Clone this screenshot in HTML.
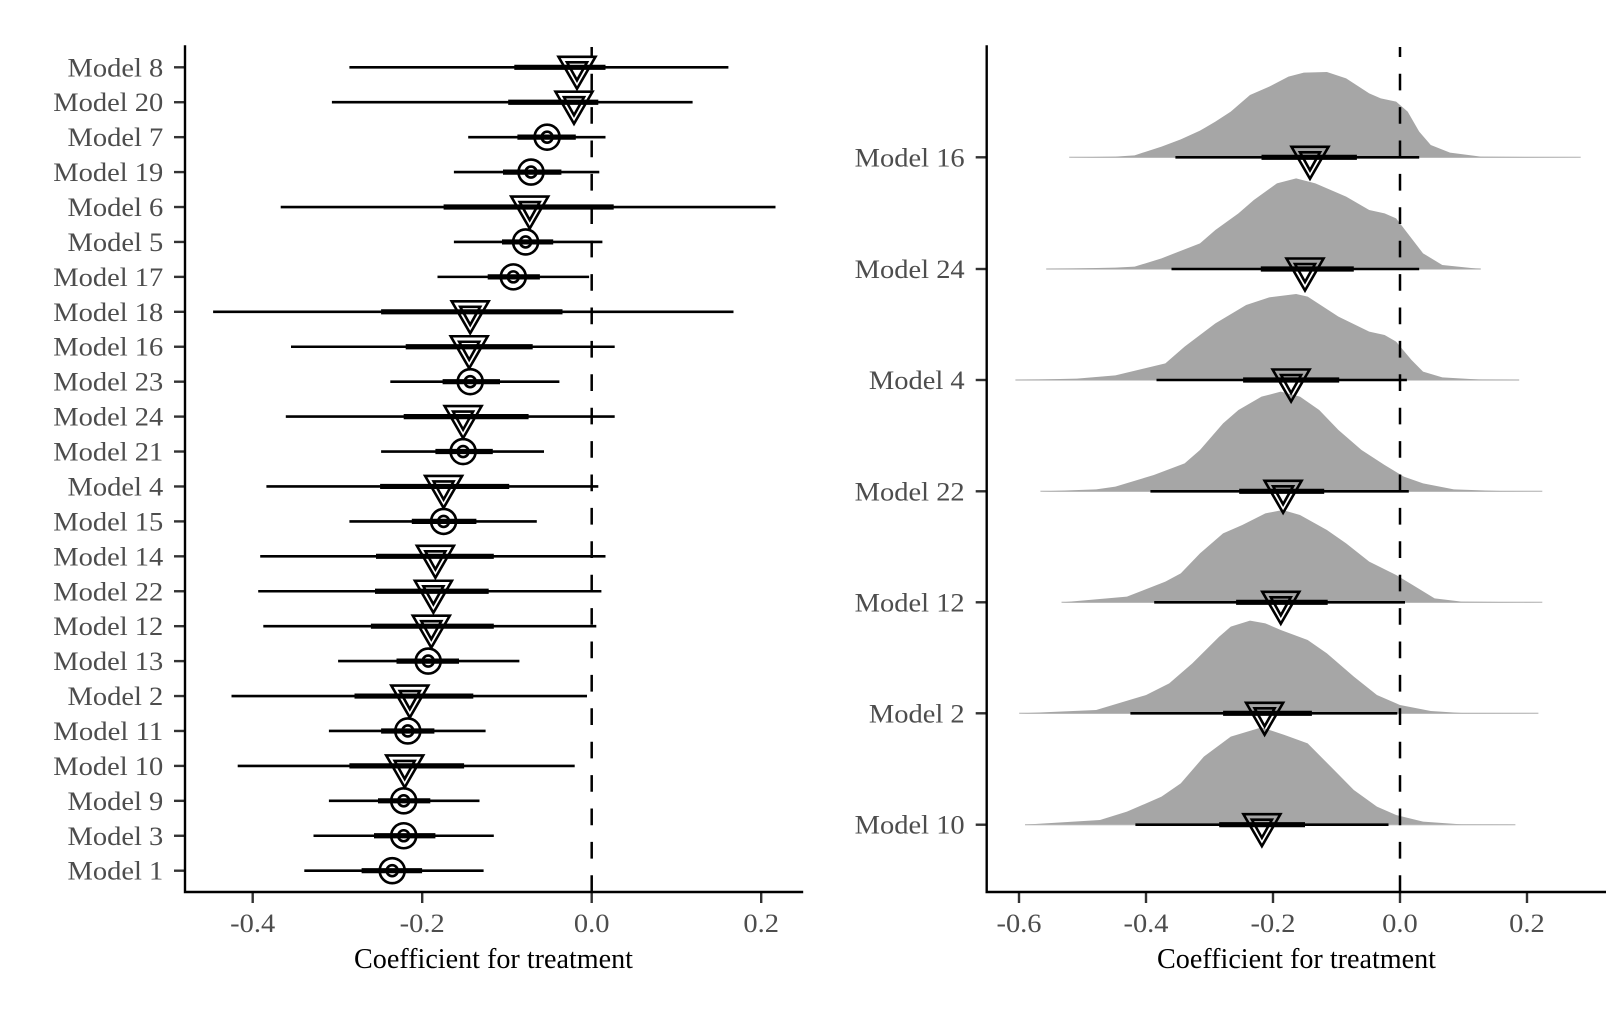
<!DOCTYPE html>
<html>
<head>
<meta charset="utf-8">
<style>
  html,body{margin:0;padding:0;background:#fff;}
  svg{display:block;}
  .tl{font-family:"Liberation Serif","Times New Roman",serif;font-size:26px;fill:#4d4d4d;}
  .ti{font-family:"Liberation Serif","Times New Roman",serif;font-size:29px;fill:#000;}
</style>
</head>
<body>
<svg width="1606" height="1022" viewBox="0 0 1606 1022" xmlns="http://www.w3.org/2000/svg">
<defs>
  <g id="tri" fill="none" stroke="#000" stroke-width="2.6" stroke-linejoin="miter">
    <path d="M-18.5,-10.5 H18.5 L0,21.5 Z"/>
    <path d="M-10,-5 H10 L0,13 Z"/>
  </g>
  <g id="cir" fill="none" stroke="#000" stroke-width="2.6">
    <circle r="12.5"/>
    <circle r="5.5"/>
  </g>
</defs>
<rect width="1606" height="1022" fill="#fff"/>

<!-- ================= LEFT PANEL ================= -->
<path d="M591.7,892 V47" stroke="#000" stroke-width="2.5" stroke-dasharray="16.7 16.7" fill="none"/>

<g stroke="#000" stroke-linecap="butt">
  <line x1="349.4" y1="67.3" x2="728.4" y2="67.3" stroke-width="2.6"/>
  <line x1="514.3" y1="67.3" x2="605.5" y2="67.3" stroke-width="5.2"/>
  <line x1="331.9" y1="102.23" x2="692.6" y2="102.23" stroke-width="2.6"/>
  <line x1="508.2" y1="102.23" x2="598.3" y2="102.23" stroke-width="5.2"/>
  <line x1="468.2" y1="137.16" x2="605.5" y2="137.16" stroke-width="2.6"/>
  <line x1="517.4" y1="137.16" x2="575.8" y2="137.16" stroke-width="5.2"/>
  <line x1="453.9" y1="172.09" x2="599.3" y2="172.09" stroke-width="2.6"/>
  <line x1="503" y1="172.09" x2="561.4" y2="172.09" stroke-width="5.2"/>
  <line x1="280.7" y1="207.02" x2="775.5" y2="207.02" stroke-width="2.6"/>
  <line x1="443.6" y1="207.02" x2="613.7" y2="207.02" stroke-width="5.2"/>
  <line x1="453.9" y1="241.95" x2="602.4" y2="241.95" stroke-width="2.6"/>
  <line x1="502" y1="241.95" x2="553.2" y2="241.95" stroke-width="5.2"/>
  <line x1="437.5" y1="276.88" x2="589.1" y2="276.88" stroke-width="2.6"/>
  <line x1="487.7" y1="276.88" x2="539.9" y2="276.88" stroke-width="5.2"/>
  <line x1="213.1" y1="311.81" x2="733.5" y2="311.81" stroke-width="2.6"/>
  <line x1="381.1" y1="311.81" x2="562.5" y2="311.81" stroke-width="5.2"/>
  <line x1="291" y1="346.74" x2="614.7" y2="346.74" stroke-width="2.6"/>
  <line x1="405.7" y1="346.74" x2="532.7" y2="346.74" stroke-width="5.2"/>
  <line x1="390.3" y1="381.67" x2="559.4" y2="381.67" stroke-width="2.6"/>
  <line x1="442.6" y1="381.67" x2="500" y2="381.67" stroke-width="5.2"/>
  <line x1="285.8" y1="416.6" x2="614.7" y2="416.6" stroke-width="2.6"/>
  <line x1="403.7" y1="416.6" x2="528.6" y2="416.6" stroke-width="5.2"/>
  <line x1="381.1" y1="451.53" x2="544" y2="451.53" stroke-width="2.6"/>
  <line x1="435.4" y1="451.53" x2="492.8" y2="451.53" stroke-width="5.2"/>
  <line x1="266.4" y1="486.46" x2="598.3" y2="486.46" stroke-width="2.6"/>
  <line x1="380.1" y1="486.46" x2="509.2" y2="486.46" stroke-width="5.2"/>
  <line x1="349.4" y1="521.39" x2="536.8" y2="521.39" stroke-width="2.6"/>
  <line x1="411.8" y1="521.39" x2="476.4" y2="521.39" stroke-width="5.2"/>
  <line x1="260.2" y1="556.32" x2="605.5" y2="556.32" stroke-width="2.6"/>
  <line x1="376" y1="556.32" x2="493.8" y2="556.32" stroke-width="5.2"/>
  <line x1="258.2" y1="591.25" x2="601.4" y2="591.25" stroke-width="2.6"/>
  <line x1="375" y1="591.25" x2="488.7" y2="591.25" stroke-width="5.2"/>
  <line x1="263.3" y1="626.18" x2="596.3" y2="626.18" stroke-width="2.6"/>
  <line x1="370.9" y1="626.18" x2="493.8" y2="626.18" stroke-width="5.2"/>
  <line x1="338.1" y1="661.11" x2="519.4" y2="661.11" stroke-width="2.6"/>
  <line x1="396.5" y1="661.11" x2="459" y2="661.11" stroke-width="5.2"/>
  <line x1="231.5" y1="696.04" x2="587" y2="696.04" stroke-width="2.6"/>
  <line x1="354.5" y1="696.04" x2="473.3" y2="696.04" stroke-width="5.2"/>
  <line x1="328.9" y1="730.97" x2="485.6" y2="730.97" stroke-width="2.6"/>
  <line x1="381.1" y1="730.97" x2="434.4" y2="730.97" stroke-width="5.2"/>
  <line x1="237.7" y1="765.9" x2="574.7" y2="765.9" stroke-width="2.6"/>
  <line x1="349.4" y1="765.9" x2="464.1" y2="765.9" stroke-width="5.2"/>
  <line x1="328.9" y1="800.83" x2="479.5" y2="800.83" stroke-width="2.6"/>
  <line x1="378" y1="800.83" x2="430.3" y2="800.83" stroke-width="5.2"/>
  <line x1="313.5" y1="835.76" x2="493.8" y2="835.76" stroke-width="2.6"/>
  <line x1="374" y1="835.76" x2="435.4" y2="835.76" stroke-width="5.2"/>
  <line x1="304.3" y1="870.69" x2="483.6" y2="870.69" stroke-width="2.6"/>
  <line x1="361.6" y1="870.69" x2="422.1" y2="870.69" stroke-width="5.2"/>
</g>

<use href="#tri" x="577" y="67.3"/>
<use href="#tri" x="574" y="102.23"/>
<use href="#cir" x="547.1" y="137.16"/>
<use href="#cir" x="531" y="172.09"/>
<use href="#tri" x="529.7" y="207.02"/>
<use href="#cir" x="525.6" y="241.95"/>
<use href="#cir" x="513.3" y="276.88"/>
<use href="#tri" x="470.2" y="311.81"/>
<use href="#tri" x="469.2" y="346.74"/>
<use href="#cir" x="470.2" y="381.67"/>
<use href="#tri" x="463.1" y="416.6"/>
<use href="#cir" x="463.1" y="451.53"/>
<use href="#tri" x="443.6" y="486.46"/>
<use href="#cir" x="443.6" y="521.39"/>
<use href="#tri" x="435.4" y="556.32"/>
<use href="#tri" x="433.4" y="591.25"/>
<use href="#tri" x="431.3" y="626.18"/>
<use href="#cir" x="428.2" y="661.11"/>
<use href="#tri" x="409.8" y="696.04"/>
<use href="#cir" x="407.8" y="730.97"/>
<use href="#tri" x="404.7" y="765.9"/>
<use href="#cir" x="403.7" y="800.83"/>
<use href="#cir" x="403.7" y="835.76"/>
<use href="#cir" x="392.2" y="870.69"/>

<g stroke="#333" stroke-width="2.4">
  <line x1="174" y1="67.3" x2="185" y2="67.3"/>
  <line x1="174" y1="102.23" x2="185" y2="102.23"/>
  <line x1="174" y1="137.16" x2="185" y2="137.16"/>
  <line x1="174" y1="172.09" x2="185" y2="172.09"/>
  <line x1="174" y1="207.02" x2="185" y2="207.02"/>
  <line x1="174" y1="241.95" x2="185" y2="241.95"/>
  <line x1="174" y1="276.88" x2="185" y2="276.88"/>
  <line x1="174" y1="311.81" x2="185" y2="311.81"/>
  <line x1="174" y1="346.74" x2="185" y2="346.74"/>
  <line x1="174" y1="381.67" x2="185" y2="381.67"/>
  <line x1="174" y1="416.6" x2="185" y2="416.6"/>
  <line x1="174" y1="451.53" x2="185" y2="451.53"/>
  <line x1="174" y1="486.46" x2="185" y2="486.46"/>
  <line x1="174" y1="521.39" x2="185" y2="521.39"/>
  <line x1="174" y1="556.32" x2="185" y2="556.32"/>
  <line x1="174" y1="591.25" x2="185" y2="591.25"/>
  <line x1="174" y1="626.18" x2="185" y2="626.18"/>
  <line x1="174" y1="661.11" x2="185" y2="661.11"/>
  <line x1="174" y1="696.04" x2="185" y2="696.04"/>
  <line x1="174" y1="730.97" x2="185" y2="730.97"/>
  <line x1="174" y1="765.9" x2="185" y2="765.9"/>
  <line x1="174" y1="800.83" x2="185" y2="800.83"/>
  <line x1="174" y1="835.76" x2="185" y2="835.76"/>
  <line x1="174" y1="870.69" x2="185" y2="870.69"/>
  <line x1="252.7" y1="892" x2="252.7" y2="903"/>
  <line x1="422.2" y1="892" x2="422.2" y2="903"/>
  <line x1="591.7" y1="892" x2="591.7" y2="903"/>
  <line x1="761.2" y1="892" x2="761.2" y2="903"/>
</g>
<path d="M185,46.5 V892 H802" fill="none" stroke="#000" stroke-width="2.4" stroke-linecap="square"/>

<g class="tl" text-anchor="end">
  <text x="163.3" y="76.3" textLength="95.8" lengthAdjust="spacingAndGlyphs">Model 8</text>
  <text x="163.3" y="111.23" textLength="110" lengthAdjust="spacingAndGlyphs">Model 20</text>
  <text x="163.3" y="146.16" textLength="95.8" lengthAdjust="spacingAndGlyphs">Model 7</text>
  <text x="163.3" y="181.09" textLength="110" lengthAdjust="spacingAndGlyphs">Model 19</text>
  <text x="163.3" y="216.02" textLength="95.8" lengthAdjust="spacingAndGlyphs">Model 6</text>
  <text x="163.3" y="250.95" textLength="95.8" lengthAdjust="spacingAndGlyphs">Model 5</text>
  <text x="163.3" y="285.88" textLength="110" lengthAdjust="spacingAndGlyphs">Model 17</text>
  <text x="163.3" y="320.81" textLength="110" lengthAdjust="spacingAndGlyphs">Model 18</text>
  <text x="163.3" y="355.74" textLength="110" lengthAdjust="spacingAndGlyphs">Model 16</text>
  <text x="163.3" y="390.67" textLength="110" lengthAdjust="spacingAndGlyphs">Model 23</text>
  <text x="163.3" y="425.6" textLength="110" lengthAdjust="spacingAndGlyphs">Model 24</text>
  <text x="163.3" y="460.53" textLength="110" lengthAdjust="spacingAndGlyphs">Model 21</text>
  <text x="163.3" y="495.46" textLength="95.8" lengthAdjust="spacingAndGlyphs">Model 4</text>
  <text x="163.3" y="530.39" textLength="110" lengthAdjust="spacingAndGlyphs">Model 15</text>
  <text x="163.3" y="565.32" textLength="110" lengthAdjust="spacingAndGlyphs">Model 14</text>
  <text x="163.3" y="600.25" textLength="110" lengthAdjust="spacingAndGlyphs">Model 22</text>
  <text x="163.3" y="635.18" textLength="110" lengthAdjust="spacingAndGlyphs">Model 12</text>
  <text x="163.3" y="670.11" textLength="110" lengthAdjust="spacingAndGlyphs">Model 13</text>
  <text x="163.3" y="705.04" textLength="95.8" lengthAdjust="spacingAndGlyphs">Model 2</text>
  <text x="163.3" y="739.97" textLength="110" lengthAdjust="spacingAndGlyphs">Model 11</text>
  <text x="163.3" y="774.9" textLength="110" lengthAdjust="spacingAndGlyphs">Model 10</text>
  <text x="163.3" y="809.83" textLength="95.8" lengthAdjust="spacingAndGlyphs">Model 9</text>
  <text x="163.3" y="844.76" textLength="95.8" lengthAdjust="spacingAndGlyphs">Model 3</text>
  <text x="163.3" y="879.69" textLength="95.8" lengthAdjust="spacingAndGlyphs">Model 1</text>
</g>
<g class="tl" text-anchor="middle">
  <text x="252.7" y="932" textLength="45" lengthAdjust="spacingAndGlyphs">-0.4</text>
  <text x="422.2" y="932" textLength="45" lengthAdjust="spacingAndGlyphs">-0.2</text>
  <text x="591.7" y="932" textLength="35.6" lengthAdjust="spacingAndGlyphs">0.0</text>
  <text x="761.2" y="932" textLength="35.6" lengthAdjust="spacingAndGlyphs">0.2</text>
</g>
<text class="ti" x="493.5" y="968" text-anchor="middle" textLength="279" lengthAdjust="spacingAndGlyphs">Coefficient for treatment</text>

<!-- ================= RIGHT PANEL ================= -->
<g stroke="#c4c4c4" stroke-width="1.4">
  <line x1="1069.2" y1="157.3" x2="1580.7" y2="157.3"/>
  <line x1="1046.2" y1="269" x2="1480.8" y2="269"/>
  <line x1="1015.4" y1="380" x2="1519.2" y2="380"/>
  <line x1="1040.4" y1="491.3" x2="1542.3" y2="491.3"/>
  <line x1="1061.5" y1="602.3" x2="1542.3" y2="602.3"/>
  <line x1="1019.2" y1="713.3" x2="1538.4" y2="713.3"/>
  <line x1="1025" y1="824.7" x2="1515.4" y2="824.7"/>
</g>
<g fill="#a6a6a6" transform="translate(1000,50) scale(0.3846,0.33333)">
  <path d="M180,322 L300,320 L350,316 L420,290 L470,268 L520,242 L560,215 L600,185 L650,135 L700,110 L750,80 L790,68 L850,66 L900,85 L960,130 L990,145 L1030,155 L1060,185 L1090,245 L1120,285 L1170,308 L1250,320 L1510,322 Z"/>
  <path d="M120,657 L300,653 L350,650 L420,625 L520,580 L560,540 L620,490 L660,450 L720,400 L770,385 L820,400 L900,440 L960,480 L1000,490 L1030,505 L1060,550 L1100,610 L1150,645 L1250,657 Z"/>
  <path d="M40,990 L200,986 L300,976 L430,940 L480,890 L560,820 L640,765 L700,742 L770,732 L800,740 L880,800 L960,845 L1000,855 L1030,875 L1070,930 L1100,965 L1150,982 L1250,989 L1350,990 Z"/>
</g>
<g fill="#a6a6a6" transform="translate(1000,450) scale(0.3846,0.33333)">
  <path d="M105,124 L250,118 L300,110 L400,75 L480,40 L520,0 L580,-80 L620,-120 L680,-160 L730,-175 L780,-160 L830,-120 L880,-60 L940,0 L1000,45 L1050,80 L1100,100 L1180,118 L1300,123 L1410,124 Z"/>
  <path d="M160,457 L330,440 L430,395 L470,370 L520,310 L580,250 L630,225 L690,190 L735,180 L780,195 L850,240 L900,280 L960,335 L1030,375 L1080,410 L1130,445 L1200,455 L1410,457 Z"/>
  <path d="M50,790 L250,780 L380,735 L440,700 L500,640 L570,560 L600,530 L650,512 L690,520 L730,540 L800,570 L850,610 L920,680 L980,735 L1040,765 L1120,783 L1200,789 L1400,790 Z"/>
  <path d="M65,1124 L260,1110 L330,1085 L420,1040 L470,1000 L530,920 L600,860 L680,832 L740,855 L800,880 L860,950 L920,1020 L980,1070 L1030,1095 L1100,1115 L1200,1123 L1340,1124 Z"/>
</g>

<path d="M1400,892 V47" stroke="#000" stroke-width="2.5" stroke-dasharray="16.7 16.7" fill="none"/>

<g stroke="#000">
  <line x1="1175.4" y1="157.3" x2="1419.2" y2="157.3" stroke-width="2.6"/>
  <line x1="1261.5" y1="157.3" x2="1356.9" y2="157.3" stroke-width="5.2"/>
  <line x1="1171.5" y1="269" x2="1419.2" y2="269" stroke-width="2.6"/>
  <line x1="1260.8" y1="269" x2="1353.8" y2="269" stroke-width="5.2"/>
  <line x1="1156.5" y1="380" x2="1406.9" y2="380" stroke-width="2.6"/>
  <line x1="1243.1" y1="380" x2="1339.2" y2="380" stroke-width="5.2"/>
  <line x1="1150.4" y1="491.3" x2="1408.8" y2="491.3" stroke-width="2.6"/>
  <line x1="1239.2" y1="491.3" x2="1324.2" y2="491.3" stroke-width="5.2"/>
  <line x1="1154.2" y1="602.3" x2="1405" y2="602.3" stroke-width="2.6"/>
  <line x1="1236.1" y1="602.3" x2="1327.7" y2="602.3" stroke-width="5.2"/>
  <line x1="1130.4" y1="713.3" x2="1397.3" y2="713.3" stroke-width="2.6"/>
  <line x1="1223.1" y1="713.3" x2="1311.9" y2="713.3" stroke-width="5.2"/>
  <line x1="1135.4" y1="824.7" x2="1388.5" y2="824.7" stroke-width="2.6"/>
  <line x1="1219.2" y1="824.7" x2="1305" y2="824.7" stroke-width="5.2"/>
</g>
<use href="#tri" x="1310" y="157.3"/>
<use href="#tri" x="1305" y="269"/>
<use href="#tri" x="1291.1" y="380"/>
<use href="#tri" x="1283.1" y="491.3"/>
<use href="#tri" x="1280.8" y="602.3"/>
<use href="#tri" x="1264.6" y="713.3"/>
<use href="#tri" x="1261.9" y="824.7"/>

<g stroke="#333" stroke-width="2.4">
  <line x1="975.7" y1="157.3" x2="986.7" y2="157.3"/>
  <line x1="975.7" y1="269" x2="986.7" y2="269"/>
  <line x1="975.7" y1="380" x2="986.7" y2="380"/>
  <line x1="975.7" y1="491.3" x2="986.7" y2="491.3"/>
  <line x1="975.7" y1="602.3" x2="986.7" y2="602.3"/>
  <line x1="975.7" y1="713.3" x2="986.7" y2="713.3"/>
  <line x1="975.7" y1="824.7" x2="986.7" y2="824.7"/>
  <line x1="1019" y1="892" x2="1019" y2="903"/>
  <line x1="1146" y1="892" x2="1146" y2="903"/>
  <line x1="1273" y1="892" x2="1273" y2="903"/>
  <line x1="1400" y1="892" x2="1400" y2="903"/>
  <line x1="1527" y1="892" x2="1527" y2="903"/>
</g>
<path d="M986.7,46.5 V892 H1606" fill="none" stroke="#000" stroke-width="2.4" stroke-linecap="square"/>

<g class="tl" text-anchor="end">
  <text x="964.7" y="166.3" textLength="110" lengthAdjust="spacingAndGlyphs">Model 16</text>
  <text x="964.7" y="278" textLength="110" lengthAdjust="spacingAndGlyphs">Model 24</text>
  <text x="964.7" y="389" textLength="95.8" lengthAdjust="spacingAndGlyphs">Model 4</text>
  <text x="964.7" y="500.3" textLength="110" lengthAdjust="spacingAndGlyphs">Model 22</text>
  <text x="964.7" y="611.3" textLength="110" lengthAdjust="spacingAndGlyphs">Model 12</text>
  <text x="964.7" y="722.3" textLength="95.8" lengthAdjust="spacingAndGlyphs">Model 2</text>
  <text x="964.7" y="833.7" textLength="110" lengthAdjust="spacingAndGlyphs">Model 10</text>
</g>
<g class="tl" text-anchor="middle">
  <text x="1019" y="932" textLength="45" lengthAdjust="spacingAndGlyphs">-0.6</text>
  <text x="1146" y="932" textLength="45" lengthAdjust="spacingAndGlyphs">-0.4</text>
  <text x="1273" y="932" textLength="45" lengthAdjust="spacingAndGlyphs">-0.2</text>
  <text x="1400" y="932" textLength="35.6" lengthAdjust="spacingAndGlyphs">0.0</text>
  <text x="1527" y="932" textLength="35.6" lengthAdjust="spacingAndGlyphs">0.2</text>
</g>
<text class="ti" x="1296.5" y="968" text-anchor="middle" textLength="279" lengthAdjust="spacingAndGlyphs">Coefficient for treatment</text>
</svg>
</body>
</html>
